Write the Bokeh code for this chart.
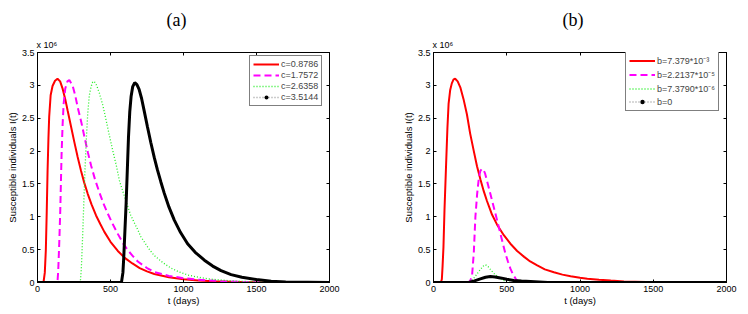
from bokeh.plotting import figure
from bokeh.models import (Range1d, LinearAxis, Legend, LegendItem, Title,
                          FixedTicker)
from bokeh.layouts import row
from bokeh.embed import file_html
from bokeh.resources import INLINE

# ---------------- data ----------------
x_ticks = [0, 500, 1000, 1500, 2000]
x_tick_labels = ["0", "500", "1000", "1500", "2000"]
y_ticks = [0, 0.5, 1, 1.5, 2, 2.5, 3, 3.5]
y_tick_labels = ["0", "0.5", "1", "1.5", "2", "2.5", "3", "3.5"]

# panel (a): values in units of 10^6
a_red_t = [0, 41, 50, 57, 63, 69, 75, 80, 90, 103, 120, 137, 155, 172, 190, 206, 230, 252,
           275, 298, 320, 344, 370, 401, 430, 458, 500, 550, 600, 650, 700, 750, 800, 900,
           1000, 1100, 1200, 1326, 1500, 2000]
a_red_v = [0, 0, 0.15, 0.49, 1.05, 1.7, 2.2, 2.52, 2.85, 2.99, 3.07, 3.10, 3.06, 2.95, 2.79,
           2.62, 2.37, 2.14, 1.91, 1.70, 1.52, 1.35, 1.19, 1.02, 0.89, 0.77, 0.62, 0.48, 0.37,
           0.29, 0.22, 0.17, 0.13, 0.08, 0.05, 0.03, 0.02, 0.01, 0.003, 0]

a_mag_t = [0, 133, 138, 142, 149, 156, 165, 172, 179, 190, 205, 218, 240, 258, 275, 300, 321,
           345, 367, 395, 424, 452, 481, 515, 550, 585, 619, 650, 687, 750, 800, 900, 1000,
           1100, 1257, 1400, 1600, 2000]
a_mag_v = [0, 0, 0.05, 0.18, 0.6, 1.1, 1.96, 2.4, 2.72, 2.95, 3.06, 3.08, 3.0, 2.85, 2.67,
           2.44, 2.22, 1.98, 1.78, 1.56, 1.37, 1.2, 1.05, 0.89, 0.74, 0.6, 0.49, 0.41, 0.32,
           0.22, 0.16, 0.1, 0.065, 0.043, 0.02, 0.008, 0.002, 0]

a_grn_t = [0, 293, 300, 309, 317, 325, 335, 344, 355, 367, 378, 389, 405, 424, 447, 470, 492,
           515, 540, 561, 600, 639, 687, 707, 760, 800, 860, 914, 970, 1028, 1100, 1189, 1326,
           1500, 2000]
a_grn_v = [0, 0, 0.2, 0.69, 1.2, 1.7, 2.2, 2.57, 2.85, 2.98, 3.05, 3.06, 3.0, 2.88, 2.7, 2.47,
           2.24, 2.01, 1.78, 1.55, 1.28, 1.02, 0.8, 0.7, 0.52, 0.41, 0.3, 0.22, 0.16, 0.115,
           0.08, 0.05, 0.025, 0.008, 0]

a_blk_t = [0, 575, 585, 591, 599, 607, 615, 623, 632, 641, 652, 666, 681, 696, 713, 730, 753,
           776, 800, 822, 845, 868, 900, 937, 980, 1028, 1080, 1143, 1200, 1257, 1326, 1400,
           1500, 1600, 1700, 2000]
a_blk_v = [0, 0, 0.15, 0.39, 0.8, 1.2, 1.7, 2.2, 2.6, 2.83, 2.98, 3.04, 3.01, 2.94, 2.8, 2.62,
           2.37, 2.13, 1.9, 1.71, 1.53, 1.36, 1.15, 0.95, 0.76, 0.59, 0.46, 0.34, 0.25, 0.18,
           0.12, 0.08, 0.045, 0.02, 0.008, 0]

# panel (b)
b_red_t = [0, 50, 57, 62, 68, 75, 87, 95, 103, 114, 125, 137, 148, 165, 183, 205, 228, 250,
           274, 297, 320, 343, 365, 400, 434, 480, 525, 571, 619, 660, 708, 760, 822, 880,
           936, 1000, 1050, 1130, 1210, 1300, 1450, 2000]
b_red_v = [0, 0, 0.05, 0.25, 0.54, 1.1, 1.86, 2.35, 2.72, 2.93, 3.03, 3.09, 3.10, 3.06, 2.97,
           2.79, 2.56, 2.27, 2.01, 1.77, 1.57, 1.39, 1.24, 1.03, 0.88, 0.72, 0.59, 0.48, 0.39,
           0.32, 0.26, 0.2, 0.155, 0.12, 0.095, 0.072, 0.058, 0.042, 0.03, 0.017, 0.006, 0]

b_mag_t = [0, 235, 250, 263, 275, 286, 298, 310, 320, 331, 340, 352, 365, 388, 411, 435, 457,
           475, 491, 508, 525, 543, 560, 583, 2000]
b_mag_v = [0, 0, 0.02, 0.1, 0.45, 1.0, 1.35, 1.6, 1.7, 1.73, 1.72, 1.66, 1.55, 1.35, 1.15,
           0.94, 0.74, 0.58, 0.44, 0.32, 0.21, 0.12, 0.06, 0, 0]

b_grn_t = [0, 240, 270, 297, 320, 340, 354, 370, 388, 411, 434, 457, 480, 505, 2000]
b_grn_v = [0, 0, 0.05, 0.13, 0.2, 0.25, 0.27, 0.25, 0.2, 0.14, 0.1, 0.06, 0.03, 0, 0]

b_blk_t = [0, 240, 280, 320, 355, 388, 420, 457, 500, 548, 600, 662, 720, 780, 2000]
b_blk_v = [0, 0, 0.025, 0.055, 0.08, 0.09, 0.085, 0.07, 0.05, 0.03, 0.022, 0.015, 0.008, 0, 0]

a_labels = ["c=0.8786", "c=1.7572", "c=2.6358", "c=3.5144"]
b_labels = ["b=7.379*10\u207b\u00b3", "b=2.2137*10\u207b\u2075",
            "b=7.3790*10\u207b\u2076", "b=0"]
panel_titles = ["(a)", "(b)"]
y_label = "Susceptible individuals I(t)"
x_label = "t (days)"
scale_label = "x 10\u2076"

FONT = "Liberation Sans"
PAGE_MARGIN = 8  # the page template removes the body margin; keep the 8px offset


def make_panel(series, labels, title, left, right, frame_w, legend_xy, row_h,
               top_extra, left_extra):
    p = figure(frame_width=frame_w, frame_height=230, output_backend="svg",
               toolbar_location=None,
               x_range=Range1d(0, 2000), y_range=Range1d(0, 3.5),
               min_border_left=left + left_extra, min_border_right=right,
               min_border_top=44 + top_extra, min_border_bottom=25)
    p.background_fill_color = "white"
    p.border_fill_color = "white"
    p.outline_line_color = "black"
    p.outline_line_width = 1
    p.xgrid.visible = False
    p.ygrid.visible = False

    for ax, ticks, labs in ((p.xaxis[0], x_ticks, x_tick_labels),
                            (p.yaxis[0], y_ticks, y_tick_labels)):
        ax.ticker = FixedTicker(ticks=ticks)
        ax.major_label_overrides = {t: l for t, l in zip(ticks, labs)}
        ax.major_tick_in = 3
        ax.major_tick_out = 0
        ax.minor_tick_line_color = None
        ax.axis_line_color = "black"
        ax.major_label_text_font = FONT
        ax.major_label_text_font_size = "9px"
        ax.major_label_text_color = "black"
        ax.axis_label_text_font = FONT
        ax.axis_label_text_font_size = "9.5px"
        ax.axis_label_text_font_style = "normal"
        ax.axis_label_text_color = "black"
    p.xaxis[0].axis_label = x_label
    p.yaxis[0].axis_label = y_label
    p.xaxis[0].major_label_standoff = 3
    p.xaxis[0].axis_label_standoff = 0
    p.yaxis[0].major_label_standoff = 3
    p.yaxis[0].axis_label_standoff = 1

    # mirrored ticks on top and right (no labels)
    for loc, ticks in (("above", x_ticks), ("right", y_ticks)):
        ax = LinearAxis(ticker=FixedTicker(ticks=ticks), major_tick_in=3, major_tick_out=0,
                        minor_tick_line_color=None, major_label_text_font_size="0px",
                        major_label_text_alpha=0, axis_line_color="black",
                        major_label_standoff=0)
        p.add_layout(ax, loc)

    (rt, rv), (mt, mv), (gt, gv), (kt, kv) = series
    # legend-only look for the black series, hidden under the thick black curve
    d_line = p.line(x=kt, y=kv, line_color="#9a9a9a", line_width=1.5, line_dash="1 2")
    d_dot = p.scatter(x=kt[-1:], y=kv[-1:], size=2, fill_color="black", line_color=None)
    r_red = p.line(x=rt, y=rv, line_color="#ff0000", line_width=2)
    r_mag = p.line(x=mt, y=mv, line_color="#ff00ff", line_width=2, line_dash="7 4")
    r_grn = p.line(x=gt, y=gv, line_color="#22ee22", line_width=1.3, line_dash="1 2")
    p.line(x=kt, y=kv, line_color="black", line_width=3)

    items = [LegendItem(label=labels[0], renderers=[r_red]),
             LegendItem(label=labels[1], renderers=[r_mag]),
             LegendItem(label=labels[2], renderers=[r_grn]),
             LegendItem(label=labels[3], renderers=[d_line, d_dot])]
    leg = Legend(items=items, location=legend_xy, label_text_font=FONT,
                 label_text_font_size="9px", label_text_line_height=1.0,
                 glyph_width=26, glyph_height=row_h,
                 label_height=row_h, spacing=1, padding=3, margin=0, label_standoff=2,
                 border_line_color="black", border_line_width=1,
                 background_fill_color="white", background_fill_alpha=1)
    p.add_layout(leg, "center")

    p.add_layout(Title(text=scale_label, align="left", offset=-1, standoff=5,
                       text_font=FONT, text_font_size="9px", text_font_style="normal",
                       text_color="black"), "above")
    p.add_layout(Title(text=title, align="left", offset=129, standoff=11,
                       text_font="Liberation Serif", text_font_size="18px",
                       text_font_style="normal", text_color="black"), "above")
    return p


pa = make_panel([(a_red_t, a_red_v), (a_mag_t, a_mag_v), (a_grn_t, a_grn_v),
                 (a_blk_t, a_blk_v)], a_labels, panel_titles[0], 29, 45, 292, (212, 176),
                10, PAGE_MARGIN, PAGE_MARGIN)
pb = make_panel([(b_red_t, b_red_v), (b_mag_t, b_mag_v), (b_grn_t, b_grn_v),
                 (b_blk_t, b_blk_v)], b_labels, panel_titles[1], 59, 14, 293, (192, 171),
                11, PAGE_MARGIN, 0)

layout = row(pa, pb)
open("out.html", "w").write(file_html(layout, INLINE))
